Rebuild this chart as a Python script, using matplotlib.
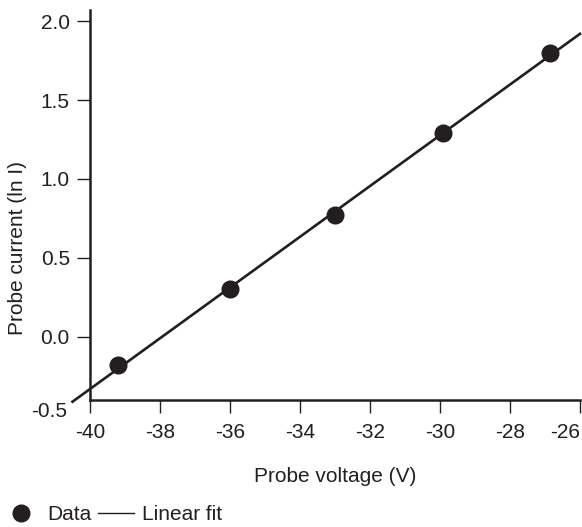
import numpy as np
import matplotlib
matplotlib.use("Agg")
import matplotlib.pyplot as plt
from matplotlib.lines import Line2D

# valores
voltaje = [-39.2, -36.0, -33.0, -29.9, -26.85]
ln_corriente = [-0.18, 0.30, 0.77, 1.29, 1.80]
xticks = [-40, -38, -36, -34, -32, -30, -28, -26]
yticks = [0.0, 0.5, 1.0, 1.5, 2.0]

negro = '#231f20'
fs = 15
plt.rcParams['font.family'] = ['Liberation Sans', 'DejaVu Sans']
plt.rcParams['font.size'] = fs

fig = plt.figure(figsize=(5.82, 5.27), dpi=100)
ax = fig.add_axes([90 / 582, 1 - 400 / 527, 490 / 582, 390 / 527])

# ajuste lineal
m, b = np.polyfit(voltaje, ln_corriente, 1)
xs = np.array([-40.5, -26.0])
ax.plot(xs, m * xs + b, color=negro, lw=1.9, clip_on=False, zorder=2)
ax.plot(voltaje, ln_corriente, 'o', color=negro, ms=12, zorder=3)

ax.set_xlim(-40, -26)
ax.set_ylim(-0.40, 2.07)
ax.set_xticks(xticks)
ax.set_xticklabels([str(t) for t in xticks])
ax.set_yticks(yticks)
ax.set_yticklabels([f"{t:.1f}" for t in yticks])
ax.tick_params(direction='out', length=9.5, width=1.0, color=negro,
               labelcolor=negro, labelsize=fs)
ax.tick_params(axis='x', pad=7)
ax.tick_params(axis='y', pad=5)
ax.get_xticklabels()[-1].set_horizontalalignment('right')

for lado in ['top', 'right']:
    ax.spines[lado].set_visible(False)
for lado in ['left', 'bottom']:
    ax.spines[lado].set_linewidth(1.8)
    ax.spines[lado].set_color(negro)

# etiqueta -0.5 debajo del eje (sin marca)
ax.text(-0.047, -0.03, "-0.5", transform=ax.transAxes, ha='right',
        va='center', fontsize=fs, color=negro)

ax.set_xlabel("Probe voltage (V)", fontsize=fs, color=negro, labelpad=18)
fig.text(18 / 582, 1 - 248 / 527, "Probe current (ln I)", rotation=90,
         ha='center', va='center', fontsize=fs, color=negro)

handles = [Line2D([], [], marker='o', ls='none', color=negro, ms=12),
           Line2D([], [], color=negro, lw=1.0)]
fig.legend(handles, ["Data", "Linear fit"], loc='lower left',
           bbox_to_anchor=(3 / 582, 3 / 527), ncol=2, frameon=False,
           borderpad=0, borderaxespad=0, handlelength=1.73,
           handletextpad=0.38, columnspacing=0.34, fontsize=fs,
           labelcolor=negro)

fig.savefig('out.png', dpi=100)
